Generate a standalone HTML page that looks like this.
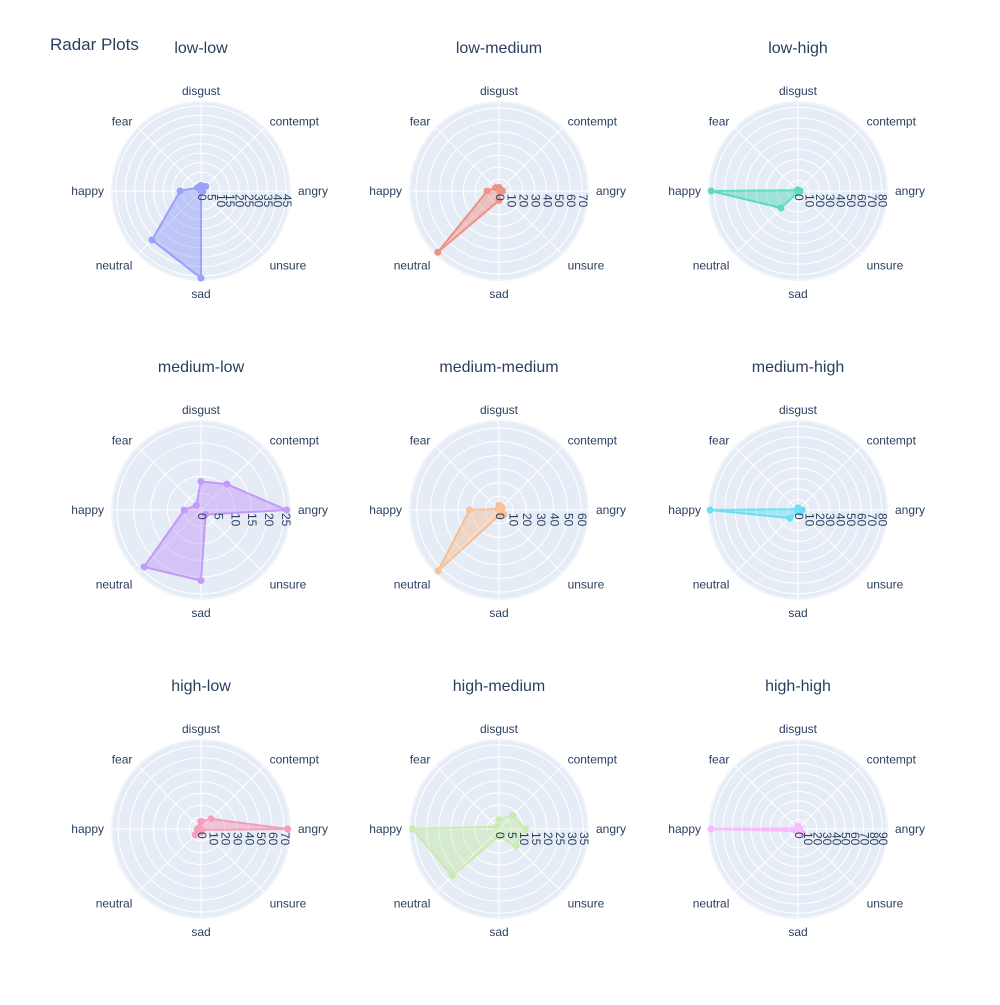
<!DOCTYPE html>
<html><head><meta charset="utf-8"><style>
body{margin:0;background:#fff;}
svg{font-family:"Liberation Sans",Arial,sans-serif;}
</style></head><body>
<svg id="chart" width="1000" height="1000" viewBox="0 0 1000 1000">
<rect width="1000" height="1000" fill="#fff"/>
<text x="50" y="50" font-size="17" fill="#2a3f5f">Radar Plots</text>
<g id="plots"></g>
</svg>
<script>
const categories = ["angry","contempt","disgust","fear","happy","neutral","sad","unsure"];
const panelTitles = ["low-low","low-medium","low-high","medium-low","medium-medium","medium-high","high-low","high-medium","high-high"];
const colors = ["#636efa","#EF553B","#00cc96","#ab63fa","#FFA15A","#19d3f3","#FF6692","#B6E880","#FF97FF"];
const rangeMax = [47,75,85,26.5,65,85,75,37,95];
const tickStep = [5,10,10,5,10,10,10,5,10];
const vLowLow = [1,3.5,3,2.5,11,36.6,46,0];
const vLowMedium = [3,2,3,4,10,73,8,1];
const vLowHigh = [2,1,1,1,83,23,1,1];
const vMediumLow = [25.5,10.9,8.5,2,5,24,21,1.9];
const vMediumMedium = [2,3,3.5,1,21.5,63,4,5];
const vMediumHigh = [4,1,2,1,84,11,1,3];
const vHighLow = [73,12,6.5,2,3,7,3,1];
const vHighMedium = [11,8,4,1.3,36,27.5,3,10];
const vHighHigh = [2,1,3,1,93,3,1,7];
const seriesValues = [vLowLow,vLowMedium,vLowHigh,vMediumLow,vMediumMedium,vMediumHigh,vHighLow,vHighMedium,vHighHigh];

const NS="http://www.w3.org/2000/svg";
const root=document.getElementById('plots');
const R=89, colX=[201,499,798], rowY=[191,510,829];
function mk(tag,attrs,parent){const e=document.createElementNS(NS,tag);for(const k in attrs)e.setAttribute(k,attrs[k]);parent.appendChild(e);return e;}
function hexA(h,a){const n=parseInt(h.slice(1),16);return `rgba(${n>>16},${(n>>8)&255},${n&255},${a})`;}

for(let p=0;p<9;p++){
  const cx=colX[p%3], cy=rowY[Math.floor(p/3)];
  const rScale=v=>v/rangeMax[p]*R;
  const ang=i=>i*Math.PI/4;
  const pt=(i,v)=>[cx+rScale(v)*Math.cos(ang(i)), cy-rScale(v)*Math.sin(ang(i))];
  const g=mk('g',{},root);
  
  
  const t=mk('text',{x:cx,y:cy-138,'text-anchor':'middle','font-size':16,fill:'#2a3f5f'},g);
  
  
  t.textContent=panelTitles[p];
  const bg=mk('circle',{cx:cx,cy:cy,r:R,fill:'#e5ecf6',stroke:'#f0f4fa','stroke-width':2},g);
  
  
  for(let v=tickStep[p];v<rangeMax[p];v+=tickStep[p]){
    const c=mk('circle',{cx:cx,cy:cy,r:rScale(v),fill:'none',stroke:'#fff','stroke-width':1},g);
    
    
  }
  categories.forEach((cat,i)=>{
    const a=ang(i);
    const l=mk('line',{x1:cx,y1:cy,x2:cx+R*Math.cos(a),y2:cy-R*Math.sin(a),stroke:'#fff','stroke-width':1},g);
    
    
    const lr=R+8, c=Math.cos(a), s=Math.sin(a);
    let anchor=Math.abs(c)<0.1?'middle':(c>0?'start':'end');
    let dy=Math.abs(s)<0.1?4:(s>0?3:10);
    if(Math.abs(c)<0.1) dy = s>0?1:10;
    const lt=mk('text',{x:cx+lr*c,y:cy-lr*s+dy,'text-anchor':anchor,'font-size':12,fill:'#2a3f5f'},g);
    
    
    lt.textContent=cat;
  });
  const vals=seriesValues[p];
  const pts=vals.map((v,i)=>pt(i,v));
  const sg=mk('g',{opacity:0.6},g);
  
  
  const poly=mk('polygon',{points:pts.map(q=>q.join(',')).join(' '),fill:hexA(colors[p],0.5),stroke:colors[p],'stroke-width':2,'stroke-linejoin':'round'},sg);
  
  
  pts.forEach((q,i)=>{
    const m=mk('circle',{cx:q[0],cy:q[1],r:3.5,fill:colors[p]},sg);
    
    
  });
  for(let v=0;v<rangeMax[p];v+=tickStep[p]){
    const x=cx+rScale(v);
    const tt=mk('text',{x:0,y:0,'font-size':12,fill:'#2a3f5f','dominant-baseline':'middle',transform:`translate(${x},${cy+3}) rotate(90)`},g);
    
    
    tt.textContent=String(v);
  }
}
</script>
</body></html>
